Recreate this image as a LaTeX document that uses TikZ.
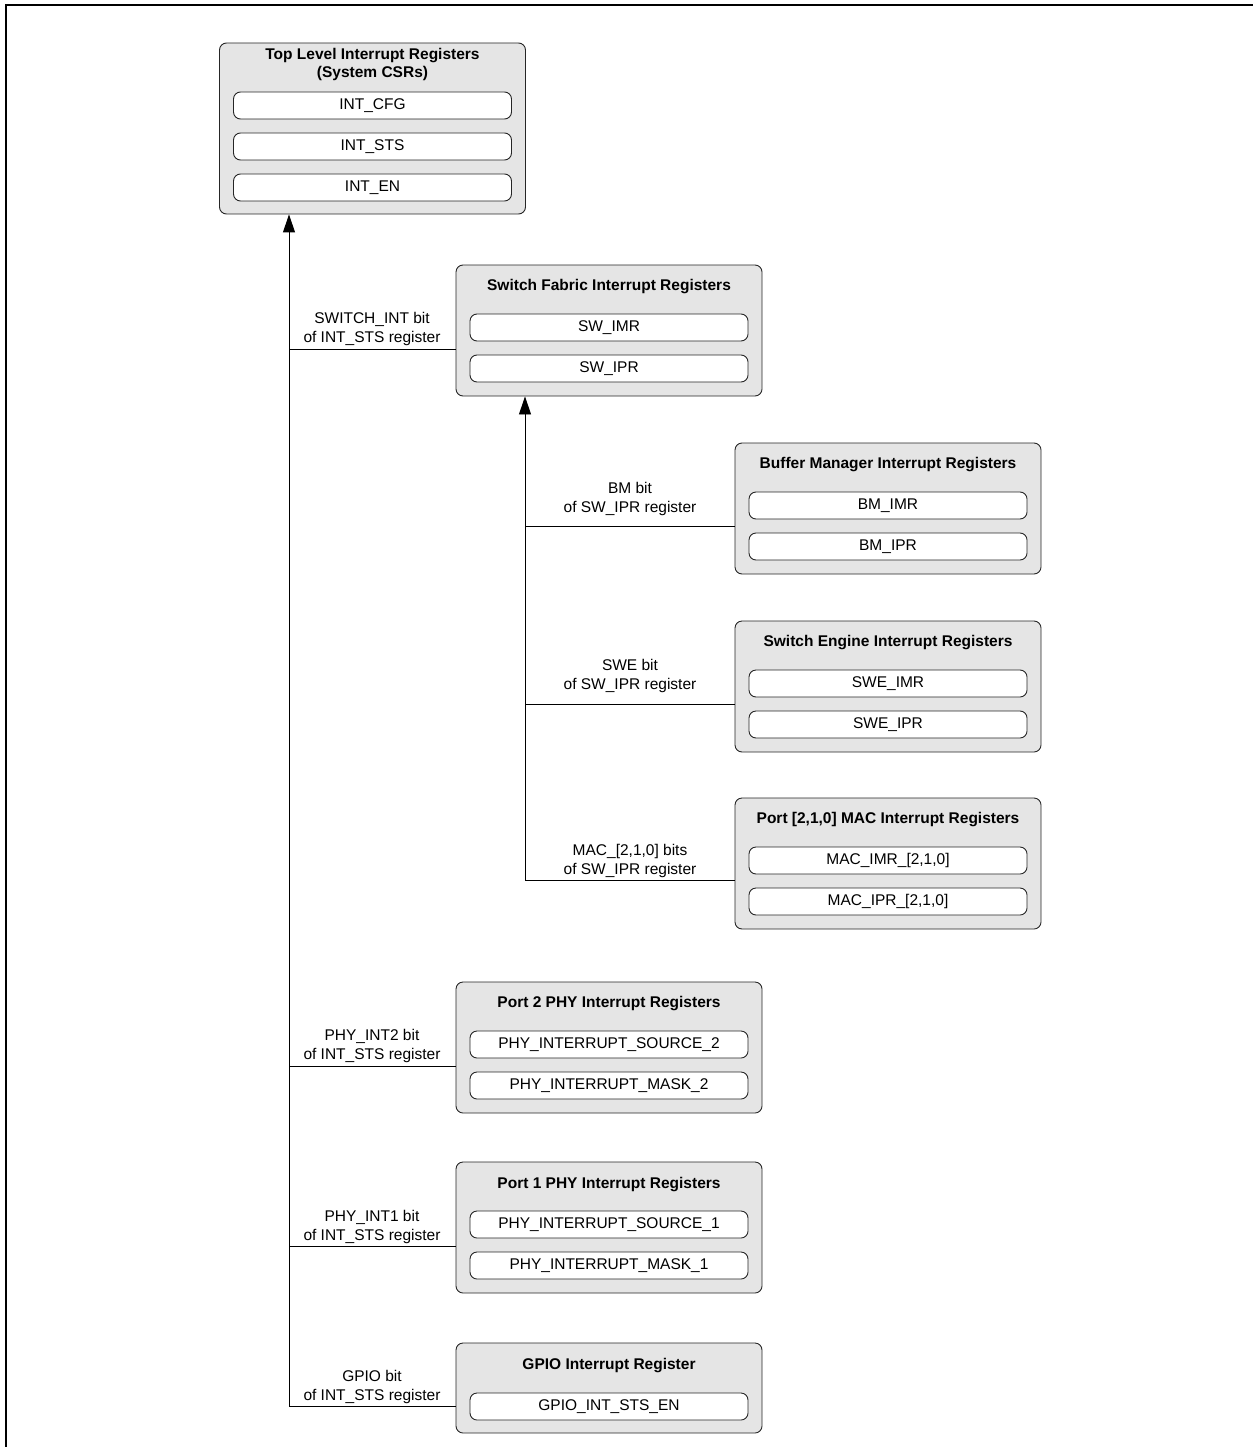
\documentclass[tikz,border=0pt]{standalone}
\usepackage{fontspec}
\setmainfont{Liberation Sans}
\usetikzlibrary{arrows.meta}
\begin{document}
\begin{tikzpicture}[x=1pt,y=-1pt,
  font=\fontsize{15.5}{18}\selectfont,
  outerbox/.style={draw=black!85, line width=0.9pt, fill=black!10, rounded corners=7pt, inner sep=0pt, minimum width=306pt},
  regbox/.style={draw=black!85, line width=0.9pt, fill=white, rounded corners=7pt, inner sep=0pt, minimum width=278pt, minimum height=27pt},
  title/.style={font=\fontsize{15.5}{18}\selectfont\bfseries, align=center, inner sep=0pt},
  lbl/.style={align=center, inner sep=0pt, font=\fontsize{15.5}{19}\selectfont},
  conn/.style={line width=0.9pt},
  arr/.style={line width=0.9pt, -{Triangle[length=18pt,width=12pt]}}
]
\useasboundingbox (0,0) rectangle (1253,1447);
\draw[line width=2pt] (6,1447) -- (6,5) -- (1253,5);

% Top level
\node[outerbox, minimum height=171pt] (top) at (372.5,128.5) {};
\node[title] (toptitle) at (372.5,64) {Top Level Interrupt Registers\\(System CSRs)};
\node[regbox] (intcfg) at (372.5,105.5) {INT\_CFG};
\node[regbox] (intsts) at (372.5,146.5) {INT\_STS};
\node[regbox] (inten) at (372.5,187.5) {INT\_EN};

% Switch fabric
\node[outerbox, minimum height=131pt] (sf) at (609,330.5) {};
\node[title] (sftitle) at (609,286.5) {Switch Fabric Interrupt Registers};
\node[regbox] (swimr) at (609,327.5) {SW\_IMR};
\node[regbox] (swipr) at (609,368.5) {SW\_IPR};

% Buffer manager
\node[outerbox, minimum height=131pt] (bm) at (888,508.5) {};
\node[title] (bmtitle) at (888,464.5) {Buffer Manager Interrupt Registers};
\node[regbox] (bmimr) at (888,505.5) {BM\_IMR};
\node[regbox] (bmipr) at (888,546.5) {BM\_IPR};

% Switch engine
\node[outerbox, minimum height=131pt] (swe) at (888,686.5) {};
\node[title] (swetitle) at (888,642.5) {Switch Engine Interrupt Registers};
\node[regbox] (sweimr) at (888,683.5) {SWE\_IMR};
\node[regbox] (sweipr) at (888,724.5) {SWE\_IPR};

% MAC
\node[outerbox, minimum height=131pt] (mac) at (888,863.5) {};
\node[title] (mactitle) at (888,819.5) {Port [2,1,0] MAC Interrupt Registers};
\node[regbox] (macimr) at (888,860.5) {MAC\_IMR\_[2,1,0]};
\node[regbox] (macipr) at (888,901.5) {MAC\_IPR\_[2,1,0]};

% Port 2 PHY
\node[outerbox, minimum height=131pt] (p2) at (609,1047.5) {};
\node[title] (p2title) at (609,1003.5) {Port 2 PHY Interrupt Registers};
\node[regbox] (p2src) at (609,1044.5) {PHY\_INTERRUPT\_SOURCE\_2};
\node[regbox] (p2mask) at (609,1085.5) {PHY\_INTERRUPT\_MASK\_2};

% Port 1 PHY
\node[outerbox, minimum height=131pt] (p1) at (609,1227.5) {};
\node[title] (p1title) at (609,1184.5) {Port 1 PHY Interrupt Registers};
\node[regbox] (p1src) at (609,1224.5) {PHY\_INTERRUPT\_SOURCE\_1};
\node[regbox] (p1mask) at (609,1265.5) {PHY\_INTERRUPT\_MASK\_1};

% GPIO
\node[outerbox, minimum height=90pt] (gpio) at (609,1388) {};
\node[title] (gpiotitle) at (609,1365.5) {GPIO Interrupt Register};
\node[regbox] (gpioen) at (609,1406.5) {GPIO\_INT\_STS\_EN};

% Main trunk
\coordinate (tA) at (289,349);
\coordinate (tB) at (289,1066);
\coordinate (tC) at (289,1246);
\coordinate (tD) at (289,1406);
\draw[arr] (gpio.west |- tD) -- (tD) -- (top.south -| tD);
\draw[conn] (tA) -- (sf.west |- tA);
\draw[conn] (tB) -- (p2.west |- tB);
\draw[conn] (tC) -- (p1.west |- tC);

% Secondary trunk
\coordinate (sA) at (525,526);
\coordinate (sB) at (525,704);
\coordinate (sC) at (525,880);
\draw[arr] (mac.west |- sC) -- (sC) -- (sf.south -| sC);
\draw[conn] (sA) -- (bm.west |- sA);
\draw[conn] (sB) -- (swe.west |- sB);

% Labels
\node[lbl] (lA) at (372,329) {SWITCH\_INT bit\\of INT\_STS register};
\node[lbl] (lB) at (372,1046) {PHY\_INT2 bit\\of INT\_STS register};
\node[lbl] (lC) at (372,1227) {PHY\_INT1 bit\\of INT\_STS register};
\node[lbl] (lD) at (372,1387) {GPIO bit\\of INT\_STS register};
\node[lbl] (lE) at (630,499) {BM bit\\of SW\_IPR register};
\node[lbl] (lF) at (630,676) {SWE bit\\of SW\_IPR register};
\node[lbl] (lG) at (630,861) {MAC\_[2,1,0] bits\\of SW\_IPR register};
\end{tikzpicture}
\end{document}
